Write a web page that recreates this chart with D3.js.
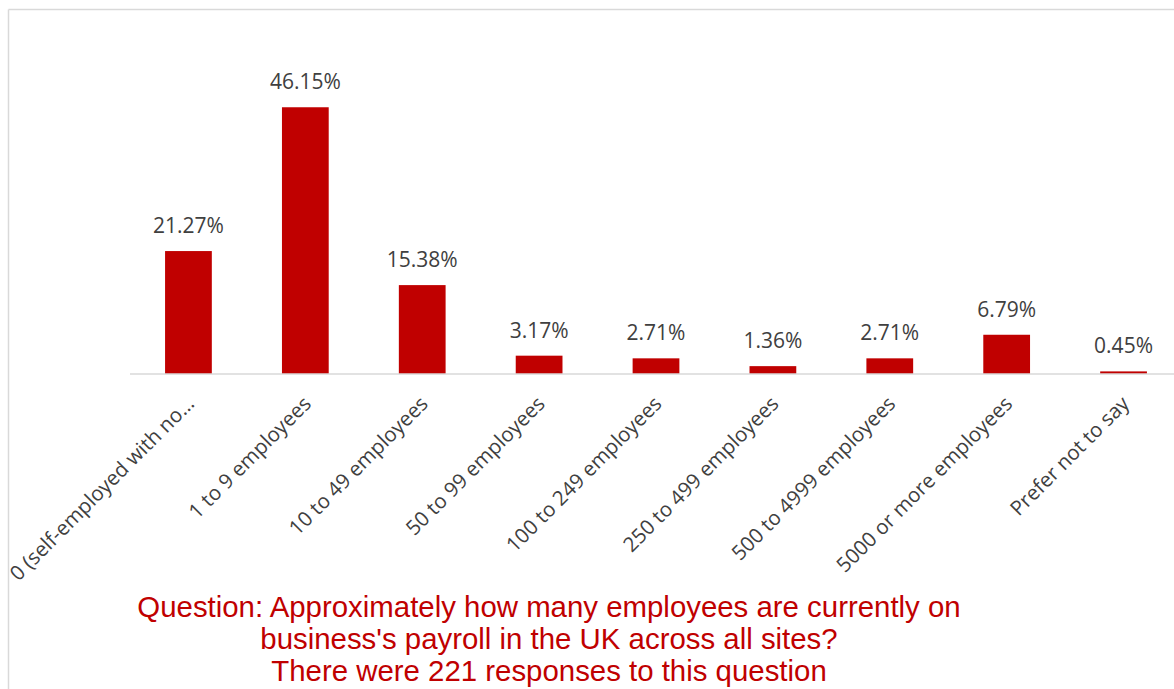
<!DOCTYPE html>
<html>
<head>
<meta charset="utf-8">
<script src="https://cdn.jsdelivr.net/npm/d3@7"></script>
<style>
  body { margin: 0; background: #fff; }
  svg { display: block; }
</style>
</head>
<body>
<svg id="chart" width="1174" height="689"></svg>
<script>
'use strict';

var categories = [
    '0 (self-employed with no\u2026',
    '1 to 9 employees',
    '10 to 49 employees',
    '50 to 99 employees',
    '100 to 249 employees',
    '250 to 499 employees',
    '500 to 4999 employees',
    '5000 or more employees',
    'Prefer not to say'
];
var percentages = [21.27, 46.15, 15.38, 3.17, 2.71, 1.36, 2.71, 6.79, 0.45];
var titleLines = [
    'Question: Approximately how many employees are currently on',
    'business\'s payroll in the UK across all sites?',
    'There were 221 responses to this question'
];

var svg = d3.select('#chart');
var baseY = 374;

// chart frame (only top and left edges show)
svg.append('line')
    .attr('x1', 8.5).attr('x2', 1174).attr('y1', 9.5).attr('y2', 9.5)
    .attr('stroke', '#d9d9d9').attr('stroke-width', 1.5);
svg.append('line')
    .attr('x1', 8.5).attr('x2', 8.5).attr('y1', 9.5).attr('y2', 689)
    .attr('stroke', '#d9d9d9').attr('stroke-width', 1.5);

var x = d3.scaleBand()
    .domain(categories)
    .range([130, 1182])
    .paddingInner(0.6)
    .paddingOuter(0.3);

var y = d3.scaleLinear()
    .domain([0, 50])
    .range([baseY, 85]);

svg.selectAll('rect.bar')
    .data(percentages)
    .enter().append('rect')
    .attr('class', 'bar')
    .attr('x', function (d, i) { return x(categories[i]); })
    .attr('width', x.bandwidth())
    .attr('y', function (d) { return y(d); })
    .attr('height', function (d) { return baseY - y(d); })
    .attr('fill', '#c00000');

// axis line with rotated labels
var axis = svg.append('g')
    .attr('transform', 'translate(0,' + baseY + ')')
    .call(d3.axisBottom(x).tickSize(0).tickPadding(0));
axis.select('.domain').attr('d', 'M130,0H1174').attr('stroke', '#d9d9d9').attr('stroke-width', 1.5);
axis.selectAll('.tick text')
    .attr('font-family', '"Open Sans", sans-serif')
    .attr('font-size', 20.5)
    .attr('fill', '#404040')
    .attr('text-anchor', 'end')
    .attr('dy', null)
    .attr('y', 0)
    .attr('transform', 'translate(7,31) rotate(-45)');

svg.selectAll('text.value')
    .data(percentages)
    .enter().append('text')
    .attr('class', 'value')
    .attr('x', function (d, i) { return x(categories[i]) + x.bandwidth() / 2; })
    .attr('y', function (d) { return y(d) - 18; })
    .attr('text-anchor', 'middle')
    .attr('font-family', '"Open Sans", sans-serif')
    .attr('font-size', 21)
    .attr('fill', '#404040')
    .text(function (d) { return d.toFixed(2) + '%'; });

svg.selectAll('text.title')
    .data(titleLines)
    .enter().append('text')
    .attr('class', 'title')
    .attr('x', 549)
    .attr('y', function (d, i) { return 617 + i * 32; })
    .attr('text-anchor', 'middle')
    .attr('font-family', '"Liberation Sans", Arial, sans-serif')
    .attr('font-size', 29.4)
    .attr('fill', '#c00000')
    .text(function (d) { return d; });
</script>
</body>
</html>
